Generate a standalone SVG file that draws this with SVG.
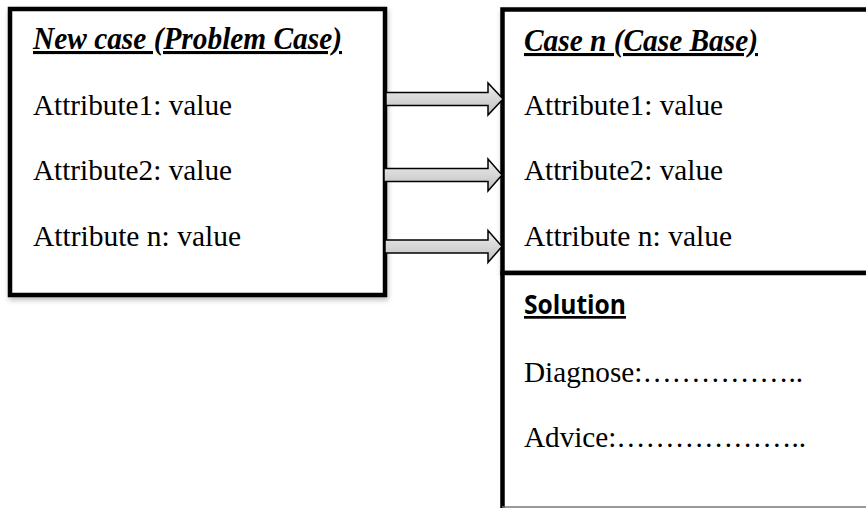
<svg xmlns="http://www.w3.org/2000/svg" width="866" height="508" viewBox="0 0 866 508">
  <defs>
    <linearGradient id="arrowFill" x1="0" y1="0" x2="0" y2="1">
      <stop offset="0" stop-color="#f0f0f0"/>
      <stop offset="1" stop-color="#bdbdbd"/>
    </linearGradient>
    <filter id="shadow" x="-5%" y="-5%" width="115%" height="115%">
      <feDropShadow dx="1" dy="3" stdDeviation="2.5" flood-color="#000" flood-opacity="0.25"/>
    </filter>
  </defs>
  <style>
    .box { fill: #fff; stroke: #000; stroke-width: 4.5; }
    .head { font-family: "Liberation Serif", "Times New Roman", serif; font-size: 31px; font-weight: bold; font-style: italic; text-decoration: underline; fill: #000; }
    .attr { font-family: "Liberation Serif", "Times New Roman", serif; font-size: 30px; fill: #000; }
    .sol { font-family: "Open Sans", "Liberation Sans", sans-serif; font-size: 27px; font-weight: bold; text-decoration: underline; fill: #000; }
    .arrow { fill: url(#arrowFill); stroke: #000; stroke-width: 1.5; stroke-linejoin: miter; }
  </style>

  <rect width="866" height="508" fill="#fff"/>

  <!-- problem case -->
  <g id="new-case">
    <rect class="box" x="10" y="9" width="375" height="286" filter="url(#shadow)"/>
    <text class="head" x="33" y="49" textLength="309" lengthAdjust="spacingAndGlyphs">New case (Problem Case)</text>
    <text class="attr" x="33" y="115" textLength="199" lengthAdjust="spacingAndGlyphs">Attribute1: value</text>
    <text class="attr" x="33" y="180" textLength="199" lengthAdjust="spacingAndGlyphs">Attribute2: value</text>
    <text class="attr" x="33" y="246" textLength="208" lengthAdjust="spacingAndGlyphs">Attribute n: value</text>
  </g>

  <!-- stored case from the case base -->
  <g id="case-base">
    <rect class="box" x="502.5" y="9.5" width="380" height="263.5" filter="url(#shadow)"/>
    <text class="head" x="524" y="51" textLength="234" lengthAdjust="spacingAndGlyphs">Case n (Case Base)</text>
    <text class="attr" x="524" y="115" textLength="199" lengthAdjust="spacingAndGlyphs">Attribute1: value</text>
    <text class="attr" x="524" y="180" textLength="199" lengthAdjust="spacingAndGlyphs">Attribute2: value</text>
    <text class="attr" x="524" y="246" textLength="208" lengthAdjust="spacingAndGlyphs">Attribute n: value</text>
  </g>

  <!-- solution part of the stored case -->
  <g id="solution">
    <rect class="box" x="502.5" y="273" width="380" height="260"/>
    <line x1="502" y1="507" x2="866" y2="507" stroke="#777" stroke-width="1.5"/>
    <text class="sol" x="524" y="314" textLength="102" lengthAdjust="spacingAndGlyphs">Solution</text>
    <text class="attr" x="524" y="382" textLength="279" lengthAdjust="spacingAndGlyphs">Diagnose:……………..</text>
    <text class="attr" x="524" y="447" textLength="282" lengthAdjust="spacingAndGlyphs">Advice:………………..</text>
  </g>

  <!-- attribute matching arrows -->
  <g id="connectors">
    <path class="arrow" d="M386 92.5 H488 V83 L503 99 L488 115 V105.5 H386 Z"/>
    <path class="arrow" d="M384 168.5 H488 V159 L502 175 L488 191 V181.5 H384 Z"/>
    <path class="arrow" d="M385 240 H488 V230.5 L502 246.5 L488 262.5 V253 H385 Z"/>
  </g>
</svg>
